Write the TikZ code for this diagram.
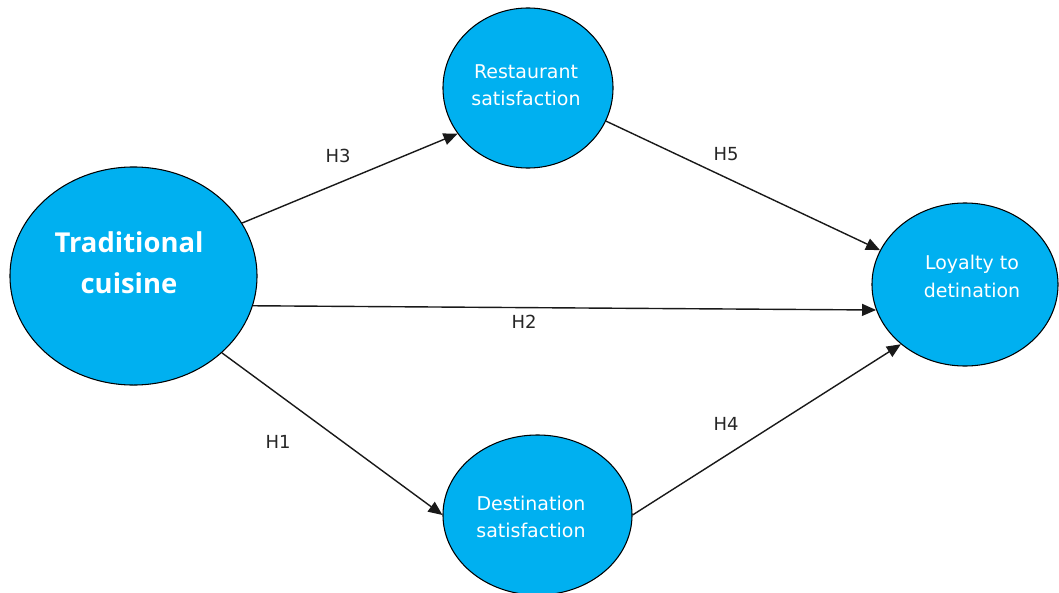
\documentclass[tikz,border=0pt]{standalone}
\usepackage{fontspec}
\setmainfont{DejaVu Sans}
\newfontfamily\tradfont{Open Sans}
\usepackage{tikz}
\usetikzlibrary{shapes.geometric,arrows.meta}

\definecolor{bubblecyan}{RGB}{0,176,240}

\begin{document}
\begin{tikzpicture}[x=0.025cm, y=-0.025cm,
    bubble/.style={ellipse, draw=black, line width=0.75pt, fill=bubblecyan, inner sep=0pt},
    bubbletext/.style={text=white, align=center, font=\fontsize{13.5}{19.5}\selectfont},
    hyp/.style={text=black!85, font=\fontsize{12.8}{15}\selectfont},
    link/.style={draw=black!90, line width=1pt, -{Triangle[length=10pt,width=8.5pt]}}]
    \clip (0,0) rectangle (1059,592);

    \node[bubble, minimum width=6.175cm, minimum height=5.45cm] (trad) at (133.5,276) {};
    \node[bubble, minimum width=4.25cm, minimum height=4cm] (rest) at (528,88) {};
    \node[bubble, minimum width=4.65cm, minimum height=4.075cm] (loyal) at (965,284.5) {};
    \node[bubble, minimum width=4.725cm, minimum height=4cm] (dest) at (537.5,515) {};

    \node[bubbletext, font=\tradfont\bfseries\fontsize{19.5}{29.5}\selectfont] (tradtxt) at (129,262.5) {Traditional\\cuisine};
    \node[bubbletext] (resttxt) at (526,85) {Restaurant\\satisfaction};
    \node[bubbletext] (loyaltxt) at (972,276.5) {Loyalty to\\detination};
    \node[bubbletext] (desttxt) at (531,516.7) {Destination\\satisfaction};

    \draw[link] (trad.26) -- (rest.213.5);
    \draw[link] (trad.-14.5) -- (loyal.196);
    \draw[link] (trad.-41.8) -- (dest.west);
    \draw[link] (rest.-23) -- (loyal.158);
    \draw[link] (dest.east) -- (loyal.223.5);

    \node[hyp] (h3) at (338,156) {H3};
    \node[hyp] (h5) at (726,154) {H5};
    \node[hyp] (h2) at (524,322) {H2};
    \node[hyp] (h1) at (278,442) {H1};
    \node[hyp] (h4) at (726,424) {H4};

\end{tikzpicture}
\end{document}
